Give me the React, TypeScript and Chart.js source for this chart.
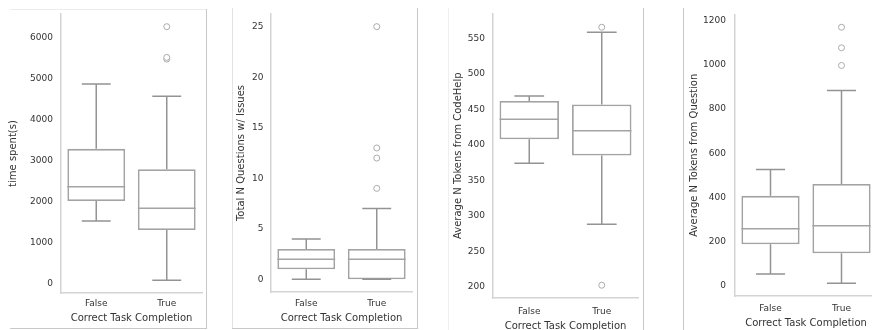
import React, { useEffect, useRef } from "react";
import { Chart, registerables } from "chart.js";

Chart.register(...registerables);

// ---------- data ----------
const categories = ["False", "True"];
const xTitle = "Correct Task Completion";

// Panel 1: time spent
const timeLow = [1533, 90];
const timeQ1 = [2022, 1313];
const timeMedian = [2372, 1843];
const timeQ3 = [3293, 2797];
const timeHigh = [4875, 4572];
const timeOutliers = [[], [5480, 5520, 6269]];
const timeTicks = [0, 1000, 2000, 3000, 4000, 5000, 6000];

// Panel 2: total N questions with issues
const issuesLow = [0, 0];
const issuesQ1 = [1, 0];
const issuesMedian = [2, 2];
const issuesQ3 = [3, 3];
const issuesHigh = [4, 7];
const issuesOutliers = [[], [9, 12, 13, 25]];
const issuesTicks = [0, 5, 10, 15, 20, 25];

// Panel 3: average N tokens from CodeHelp
const helpLow = [374, 288];
const helpQ1 = [408, 385];
const helpMedian = [436, 420];
const helpQ3 = [462, 457];
const helpHigh = [469, 559];
const helpOutliers = [[], [566, 202]];
const helpTicks = [200, 250, 300, 350, 400, 450, 500, 550];

// Panel 4: average N tokens from question
const questionLow = [54, 12];
const questionQ1 = [188, 147];
const questionMedian = [258, 272];
const questionQ3 = [407, 461];
const questionHigh = [526, 884];
const questionOutliers = [[], [997, 1077, 1170]];
const questionTicks = [0, 200, 400, 600, 800, 1000, 1200];

// ---------- styles ----------
const FONT = "'DejaVu Sans', sans-serif";
const TICK_FONT = 9;
const TITLE_FONT = 10;
const TEXT = "#333333";
const BOX = "#a3a3a3";
const WHISKER = "#939393";
const SPINE = "#d4d4d4";

type Layout = {
  canvas: { left: number; top: number; w: number; h: number };
  area: { left: number; top: number; right: number; bottom: number };
  yTickRight: number;
  xTickCenter: number;
  yTitleX: number;
  xTitleY: number;
};

type Panel = {
  yTitle: string;
  low: number[];
  q1: number[];
  median: number[];
  q3: number[];
  high: number[];
  outliers: number[][];
  ticks: number[];
  yMin: number;
  yMax: number;
  layout: Layout;
};

const panels: Panel[] = [
  {
    yTitle: "time spent(s)",
    low: timeLow, q1: timeQ1, median: timeMedian, q3: timeQ3, high: timeHigh,
    outliers: timeOutliers, ticks: timeTicks, yMin: -219, yMax: 6578,
    layout: {
      canvas: { left: 0, top: 0, w: 206, h: 330 },
      area: { left: 61, top: 14, right: 202, bottom: 293 },
      yTickRight: 53, xTickCenter: 304, yTitleX: 13.5, xTitleY: 318,
    },
  },
  {
    yTitle: "Total N Questions w/ Issues",
    low: issuesLow, q1: issuesQ1, median: issuesMedian, q3: issuesQ3, high: issuesHigh,
    outliers: issuesOutliers, ticks: issuesTicks, yMin: -1.25, yMax: 26.25,
    layout: {
      canvas: { left: 232, top: 0, w: 185, h: 330 },
      area: { left: 271, top: 14, right: 412, bottom: 292 },
      yTickRight: 263.5, xTickCenter: 304, yTitleX: 241.5, xTitleY: 318.5,
    },
  },
  {
    yTitle: "Average N Tokens from CodeHelp",
    low: helpLow, q1: helpQ1, median: helpMedian, q3: helpQ3, high: helpHigh,
    outliers: helpOutliers, ticks: helpTicks, yMin: 184, yMax: 585.5,
    layout: {
      canvas: { left: 448, top: 0, w: 195, h: 345 },
      area: { left: 493, top: 13, right: 638, bottom: 298 },
      yTickRight: 485, xTickCenter: 311.5, yTitleX: 458, xTitleY: 326.5,
    },
  },
  {
    yTitle: "Average N Tokens from Question",
    low: questionLow, q1: questionQ1, median: questionMedian, q3: questionQ3, high: questionHigh,
    outliers: questionOutliers, ticks: questionTicks, yMin: -46, yMax: 1228,
    layout: {
      canvas: { left: 683, top: 0, w: 200, h: 330 },
      area: { left: 735, top: 13, right: 877, bottom: 296 },
      yTickRight: 726, xTickCenter: 309, yTitleX: 694, xTitleY: 323,
    },
  },
];

const borders = [
  { left: 10, top: 9, w: 196, h: 1, c: "#ececec" },
  { left: 206, top: 9, w: 1, h: 320, c: "#c8c8c8" },
  { left: 10, top: 328, w: 197, h: 1, c: "#c8c8c8" },
  { left: 232, top: 8, w: 1, h: 321, c: "#e2e2e2" },
  { left: 232, top: 328, w: 186, h: 1, c: "#c8c8c8" },
  { left: 417, top: 8, w: 1, h: 321, c: "#c8c8c8" },
  { left: 448, top: 8, w: 1, h: 322, c: "#efefef" },
  { left: 643, top: 8, w: 1, h: 322, c: "#c8c8c8" },
  { left: 683, top: 8, w: 1, h: 322, c: "#c8c8c8" },
];

// plugin: whiskers, caps and medians drawn from the library scales
const boxPlugin = {
  id: "boxWhiskers",
  afterDatasetDraw(chart: any, args: any, opts: any) {
    const meta = chart.getDatasetMeta(args.index);
    if (meta.type !== "bar") return;
    const p: Panel = opts.panel;
    const yScale = chart.scales.y;
    const ctx = chart.ctx;
    ctx.save();
    meta.data.forEach((bar: any, i: number) => {
      const { x, width } = bar.getProps(["x", "width"], true);
      const yLo = yScale.getPixelForValue(p.low[i]);
      const yQ1 = yScale.getPixelForValue(p.q1[i]);
      const yMed = yScale.getPixelForValue(p.median[i]);
      const yQ3 = yScale.getPixelForValue(p.q3[i]);
      const yHi = yScale.getPixelForValue(p.high[i]);
      const cap = width * 0.25;
      ctx.lineWidth = 1.5;
      ctx.strokeStyle = WHISKER;
      ctx.beginPath();
      ctx.moveTo(x, yQ1);
      ctx.lineTo(x, yLo);
      ctx.moveTo(x - cap, yLo);
      ctx.lineTo(x + cap, yLo);
      ctx.moveTo(x, yQ3);
      ctx.lineTo(x, yHi);
      ctx.moveTo(x - cap, yHi);
      ctx.lineTo(x + cap, yHi);
      ctx.stroke();
      ctx.strokeStyle = BOX;
      ctx.beginPath();
      ctx.moveTo(x - width / 2, yMed);
      ctx.lineTo(x + width / 2, yMed);
      ctx.stroke();
    });
    ctx.restore();
  },
};

function buildConfig(p: Panel) {
  const L = p.layout;
  const tickLH = TICK_FONT * 1.2;
  const titleLH = TITLE_FONT * 1.2;
  const outlierPoints: { x: string; y: number }[] = [];
  p.outliers.forEach((arr, i) => arr.forEach((v) => outlierPoints.push({ x: categories[i], y: v })));
  const yWidth = L.area.left - L.canvas.left;
  const xHeight = L.canvas.top + L.canvas.h - L.area.bottom;
  return {
    type: "bar",
    data: {
      labels: categories,
      datasets: [
        {
          type: "bar",
          data: p.q1.map((v, i) => [v, p.q3[i]]),
          backgroundColor: "#ffffff",
          borderColor: BOX,
          borderWidth: 1.8,
          borderSkipped: false,
          barPercentage: 0.82,
          categoryPercentage: 1,
          order: 2,
        },
        {
          type: "scatter",
          data: outlierPoints,
          pointRadius: 3,
          pointHoverRadius: 3,
          pointBackgroundColor: "#ffffff",
          pointBorderColor: "#ababab",
          pointBorderWidth: 1,
          order: 1,
        },
      ],
    },
    options: {
      animation: false,
      responsive: false,
      devicePixelRatio: 1,
      events: [],
      layout: {
        padding: {
          left: 0,
          top: L.area.top - L.canvas.top,
          right: L.canvas.left + L.canvas.w - L.area.right,
          bottom: 0,
        },
      },
      plugins: {
        legend: { display: false },
        tooltip: { enabled: false },
        boxWhiskers: { panel: p },
      },
      scales: {
        x: {
          type: "category",
          offset: true,
          grid: { display: false, drawTicks: false },
          border: { display: true, color: SPINE, width: 1.5 },
          ticks: {
            color: TEXT,
            font: { family: FONT, size: TICK_FONT },
            padding: L.xTickCenter - L.area.bottom - tickLH / 2,
            maxRotation: 0,
            autoSkip: false,
          },
          title: {
            display: true,
            text: xTitle,
            color: TEXT,
            font: { family: FONT, size: TITLE_FONT },
            padding: { top: 0, bottom: L.canvas.top + L.canvas.h - L.xTitleY - titleLH / 2 },
          },
          afterFit: (s: any) => {
            s.height = xHeight;
          },
        },
        y: {
          type: "linear",
          min: p.yMin,
          max: p.yMax,
          grid: { display: false, drawTicks: false },
          border: { display: true, color: SPINE, width: 1.5 },
          afterBuildTicks: (s: any) => {
            s.ticks = p.ticks.map((v) => ({ value: v }));
          },
          ticks: {
            color: TEXT,
            font: { family: FONT, size: TICK_FONT },
            padding: L.area.left - L.yTickRight,
            callback: (v: any) => String(v),
          },
          title: {
            display: true,
            text: p.yTitle,
            color: TEXT,
            font: { family: FONT, size: TITLE_FONT },
            padding: { top: L.yTitleX - L.canvas.left - titleLH / 2, bottom: 0 },
          },
          afterFit: (s: any) => {
            s.width = yWidth;
          },
        },
      },
    },
    plugins: [boxPlugin],
  };
}

function BoxChart({ panel }: { panel: Panel }) {
  const ref = useRef<HTMLCanvasElement | null>(null);
  useEffect(() => {
    if (!ref.current) return;
    const chart = new Chart(ref.current, buildConfig(panel) as any);
    return () => chart.destroy();
  }, [panel]);
  const c = panel.layout.canvas;
  return (
    <canvas
      ref={ref}
      width={c.w}
      height={c.h}
      style={{ position: "absolute", left: c.left, top: c.top, width: c.w, height: c.h }}
    />
  );
}

export default function App() {
  return (
    <div
      style={{
        position: "fixed",
        left: 0,
        top: 0,
        width: 872,
        height: 330,
        overflow: "hidden",
        background: "#ffffff",
      }}
    >
      {panels.map((p, i) => (
        <BoxChart key={i} panel={p} />
      ))}
      {borders.map((b, i) => (
        <div
          key={"b" + i}
          style={{ position: "absolute", left: b.left, top: b.top, width: b.w, height: b.h, background: b.c }}
        />
      ))}
    </div>
  );
}
